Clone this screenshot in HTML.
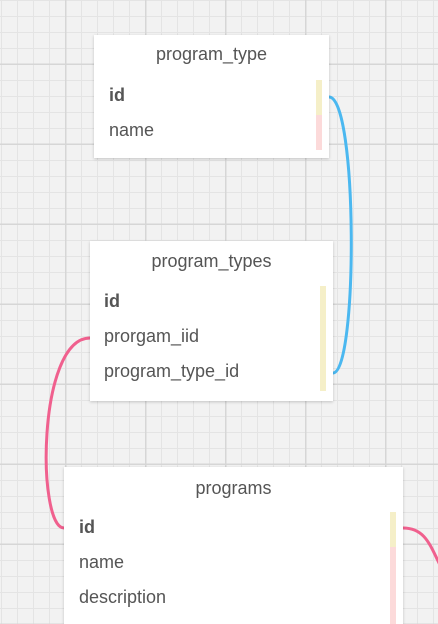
<!DOCTYPE html>
<html style="overflow:hidden;height:624px"><head><style>
body{margin:0;width:438px;height:624px;overflow:hidden;background:#f2f2f2;font-family:"Liberation Sans",sans-serif;position:relative;
background-image:
linear-gradient(90deg,#d6d6d6 1.5px,transparent 1.5px),
linear-gradient(0deg,#d6d6d6 1.5px,transparent 1.5px),
linear-gradient(90deg,#e4e4e4 1px,transparent 1px),
linear-gradient(0deg,#e4e4e4 1px,transparent 1px);
background-size:80px 80px,80px 80px,16px 16px,16px 16px;
background-position:65px 0,0 65px,1px 0,0 1px;}
.t{position:absolute;background:#fff;box-shadow:0 1px 3px rgba(0,0,0,.2);color:#555;font-size:18px}
.h{position:absolute;left:0;right:0;text-align:center;color:#555}
.r{position:absolute;color:#555}
.b{font-weight:bold}
.bar{position:absolute;width:6px}
svg{position:absolute;left:0;top:0}
</style></head><body>
<svg width="438" height="624">
<path d="M329 97 C358 97 358 373 333 373" fill="none" stroke="#4bb8f0" stroke-width="3"/>
<path d="M90 338 C37 338 37 528 64 528" fill="none" stroke="#f0608e" stroke-width="3"/>
<path d="M403 528 C425 528 430 545 440 565" fill="none" stroke="#f0608e" stroke-width="3"/>
</svg>
<div class="t" style="left:94px;top:35px;width:235px;height:123px">
<div class="h" style="top:9px">program_type</div>
<div class="r b" style="left:15px;top:50px">id</div>
<div class="r" style="left:15px;top:85px">name</div>
<div class="bar" style="left:222px;top:45px;height:35px;background:#f5efc8"></div>
<div class="bar" style="left:222px;top:80px;height:35px;background:#fcdada"></div>
</div>
<div class="t" style="left:90px;top:241px;width:243px;height:160px">
<div class="h" style="top:10px">program_types</div>
<div class="r b" style="left:14px;top:50px">id</div>
<div class="r" style="left:14px;top:85px">prorgam_iid</div>
<div class="r" style="left:14px;top:120px">program_type_id</div>
<div class="bar" style="left:230px;top:45px;height:105px;background:#f5efc8"></div>
</div>
<div class="t" style="left:64px;top:467px;width:339px;height:157px">
<div class="h" style="top:11px">programs</div>
<div class="r b" style="left:15px;top:50px">id</div>
<div class="r" style="left:15px;top:85px">name</div>
<div class="r" style="left:15px;top:120px">description</div>
<div class="bar" style="left:326px;top:45px;height:35px;background:#f5efc8"></div>
<div class="bar" style="left:326px;top:80px;height:77px;background:#fcdada"></div>
</div>
</body></html>
